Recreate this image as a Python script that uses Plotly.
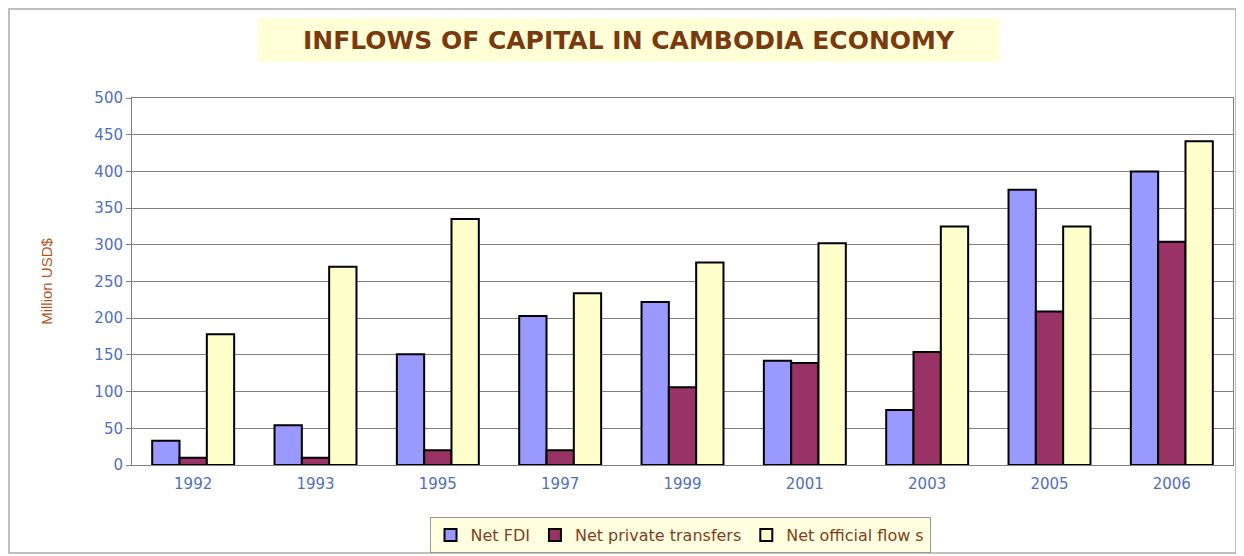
import plotly.graph_objects as go

years = ["1992", "1993", "1995", "1997", "1999", "2001", "2003", "2005", "2006"]
net_fdi = [33, 54, 151, 203, 222, 142, 75, 375, 400]
net_private = [10, 10, 20, 20, 106, 139, 154, 209, 304]
net_official = [178, 270, 335, 234, 276, 302, 325, 325, 441]
y_ticks = [0, 50, 100, 150, 200, 250, 300, 350, 400, 450, 500]

series_names = ["Net FDI", "Net private transfers", "Net official flow s"]
series_colors = ["#9999FF", "#993366", "#FFFFCC"]

fig = go.Figure()
for name, vals, col in zip(series_names, [net_fdi, net_private, net_official], series_colors):
    fig.add_trace(go.Bar(
        x=years, y=vals, name=name,
        marker=dict(color=col, line=dict(color="#000000", width=2)),
    ))

tick_font = dict(family="DejaVu Sans, Arial", size=15, color="#4F70BA")

fig.update_layout(
    width=1236, height=548,
    margin=dict(l=124, r=11, t=90, b=91, autoexpand=False),
    paper_bgcolor="white", plot_bgcolor="white",
    barmode="group", bargap=0.33, bargroupgap=0,
    showlegend=True,
    legend=dict(
        orientation="h", xref="container", yref="container",
        x=0.5437, y=0.0383, xanchor="center", yanchor="middle",
        bgcolor="#FFFFE0", bordercolor="#999999", borderwidth=1,
        font=dict(family="DejaVu Sans, Arial", size=16, color="#7F3F1F"),
        itemwidth=30, tracegroupgap=0,
    ),
    xaxis=dict(
        type="category", tickfont=tick_font, showgrid=False,
        showline=True, linecolor="#808080", linewidth=1, mirror=True,
        ticks="outside", ticklen=5, tickcolor="rgba(0,0,0,0)",
    ),
    yaxis=dict(
        range=[0, 500], tickvals=y_ticks, tickfont=tick_font,
        showgrid=True, gridcolor="#808080", gridwidth=1,
        showline=True, linecolor="#808080", linewidth=1, mirror=True,
        ticks="outside", ticklen=5, tickcolor="#808080",
        zeroline=False,
    ),
    annotations=[
        dict(
            text="<b>INFLOWS OF CAPITAL IN CAMBODIA ECONOMY</b>",
            xref="paper", yref="paper", x=0.451, y=1.158,
            xanchor="center", yanchor="middle", showarrow=False,
            font=dict(family="DejaVu Sans, Arial", size=25, color="#7A3A10"),
        ),
        dict(
            text="Million USD$",
            xref="paper", yref="paper", x=-0.0778, y=0.5,
            xanchor="center", yanchor="middle", showarrow=False, textangle=-90,
            font=dict(family="Liberation Sans Narrow, Arial", size=15, color="#B5541C"),
        ),
    ],
    shapes=[
        dict(type="rect", xref="paper", yref="paper",
             x0=-0.1117, x1=1.0027, y0=-0.2398, y1=1.2425,
             line=dict(color="#AAAAAA", width=1.5), fillcolor="rgba(0,0,0,0)",
             layer="below"),
        dict(type="rect", xref="paper", yref="paper",
             x0=0.1144, x1=0.788, y0=1.098, y1=1.218,
             line=dict(width=0), fillcolor="#FFFFD8", layer="below"),
    ],
)

fig.write_html("out.html")
